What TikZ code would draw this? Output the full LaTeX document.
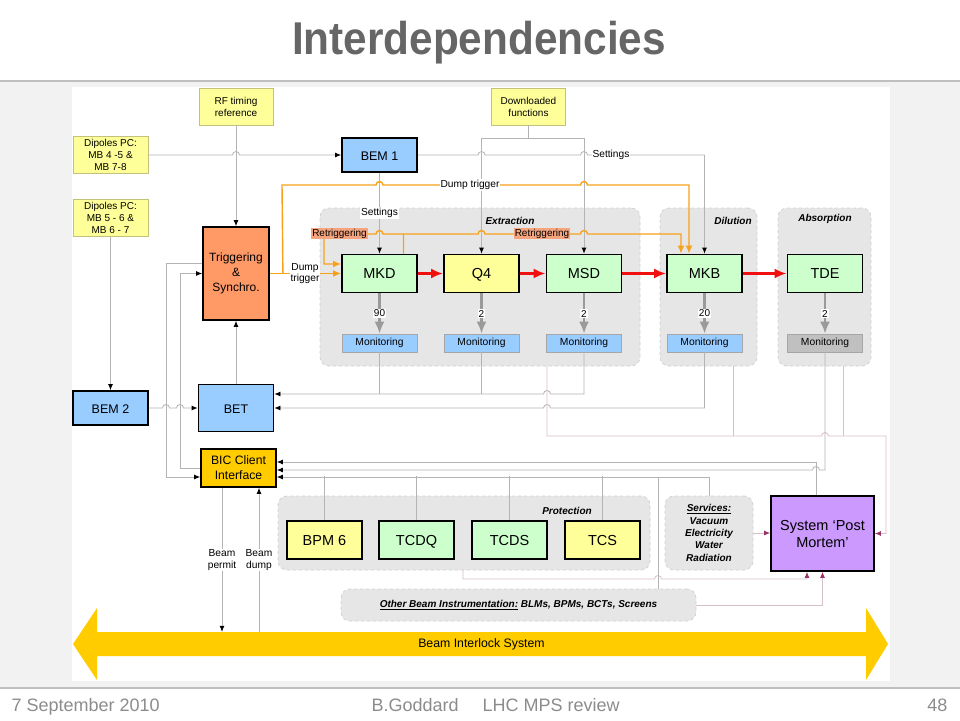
\documentclass[tikz,border=0pt]{standalone}
\usepackage{fontspec}
\setmainfont{Liberation Sans}
\newfontfamily\titlefont[FakeStretch=0.92]{Liberation Sans}
\usetikzlibrary{arrows.meta}

\definecolor{kyellow}{HTML}{FFFF99}
\definecolor{kgreen}{HTML}{CCFFCC}
\definecolor{kblue}{HTML}{99CCFF}
\definecolor{ksalmon}{HTML}{FF9966}
\definecolor{kgold}{HTML}{FFCC00}
\definecolor{kpurple}{HTML}{CC99FF}
\definecolor{kred}{HTML}{F01010}
\definecolor{korange}{HTML}{F7A21B}
\definecolor{kretrig}{HTML}{F6A47E}
\definecolor{mongray}{HTML}{C0C0C0}
\definecolor{noteline}{HTML}{C2C27A}
\definecolor{grpfill}{HTML}{E6E6E6}
\definecolor{grpline}{HTML}{D2D2D2}
\definecolor{wiregray}{HTML}{B4B4B4}
\definecolor{pmwire}{HTML}{D8C0CA}
\definecolor{pmtip}{HTML}{993366}
\definecolor{cntgray}{HTML}{9A9A9A}
\definecolor{titlegray}{HTML}{666666}
\definecolor{footgray}{HTML}{8C8C8C}
\definecolor{panel}{HTML}{F2F2F2}
\definecolor{slideline}{HTML}{BFBFBF}

% hops of a horizontal line over a vertical one
\newcommand{\hopr}[2]{-- (#1-3.5,#2) arc[start angle=180,end angle=0,radius=3.5pt]}
\newcommand{\hopl}[2]{-- (#1+3.5,#2) arc[start angle=0,end angle=180,radius=3.5pt]}

\begin{document}
\begin{tikzpicture}[x=1pt,y=-1pt,
    box/.style={draw=black, line width=1.8pt, minimum width=75pt, minimum height=38pt,
        inner sep=1pt, align=center, font=\fontsize{14.5}{17}\selectfont},
    one/.style={text height=10.5pt, text depth=0pt},
    note/.style={draw=noteline, fill=kyellow, line width=0.7pt, minimum width=74pt,
        minimum height=37pt, inner sep=1pt, align=center, font=\fontsize{10}{12}\selectfont},
    mon/.style={draw=gray!70, line width=0.6pt, minimum width=75pt, minimum height=18pt,
        inner sep=0pt, font=\fontsize{10.3}{11}\selectfont},
    grp/.style={fill=grpfill, draw=grpline, dashed, line width=0.8pt, rounded corners=9pt},
    grplbl/.style={font=\fontsize{10}{11}\selectfont\bfseries\itshape},
    lbl/.style={fill=white, inner sep=1pt, align=center, font=\fontsize{10.2}{11.5}\selectfont},
    num/.style={fill=white, inner sep=1pt, font=\fontsize{10}{10}\selectfont},
    retrig/.style={fill=kretrig, inner sep=1pt, font=\fontsize{10}{11}\selectfont},
    wire/.style={draw=wiregray, line width=0.8pt},
    pmw/.style={draw=pmwire, line width=0.8pt},
    arr/.style={-{Latex[length=6pt,width=5pt,color=black]}},
    parr/.style={-{Latex[length=6pt,width=5pt,color=pmtip]}},
    dump/.style={draw=korange, line width=1.4pt},
    oarr/.style={-{Latex[length=8pt,width=7pt]}},
    beam/.style={draw=kred, line width=2.6pt, -{Latex[length=12pt,width=10pt]}},
    cnt/.style={draw=cntgray, line width=2.6pt, -{Latex[length=12pt,width=10pt]}},
    foot/.style={text=footgray, font=\fontsize{18}{20}\selectfont}]

    \useasboundingbox (0,0) rectangle (960,720);

    % Slide background, title and footer
    \fill[white] (0,0) rectangle (960,720);
    \fill[panel] (0,82) rectangle (960,687);
    \fill[white] (72,87) rectangle (890,681);
    \draw[slideline, line width=2.5pt] (0,81) -- (960,81);
    \draw[slideline, line width=2.5pt] (0,688) -- (960,688);
    \node[text=titlegray, font=\titlefont\bfseries\fontsize{46}{50}\selectfont] (title) at (479,43) {Interdependencies};
    \node[foot, anchor=base west] (date) at (8,711) {7 September 2010};
    \node[foot, anchor=base west] (author) at (368,711) {B.Goddard\hspace{24pt}LHC MPS review};
    \node[foot, anchor=base east] (page) at (951,711) {48};

    % Place the groups
    \node[grp, minimum width=320pt, minimum height=158pt] (extr) at (480,287) {};
    \node[grp, minimum width=97pt, minimum height=158pt] (dil) at (708.5,287) {};
    \node[grp, minimum width=93pt, minimum height=158pt] (abso) at (824.5,287) {};
    \node[grp, minimum width=372pt, minimum height=74pt] (prot) at (464,533) {};
    \node[grp, minimum width=88pt, minimum height=74pt, align=center, inner sep=0pt,
        font=\fontsize{10}{12.3}\selectfont\bfseries\itshape] (svc) at (709,533)
        {\underline{Services:}\\Vacuum\\Electricity\\Water\\Radiation};
    \node[grp, minimum width=355pt, minimum height=32pt, font=\fontsize{10}{11}\selectfont\bfseries\itshape] (oth) at (518.5,605)
        {\underline{Other Beam Instrumentation:} BLMs, BPMs, BCTs, Screens};
    \node[grplbl] (extrlbl) at (510,220.5) {Extraction};
    \node[grplbl] (dillbl) at (733,220.5) {Dilution};
    \node[grplbl] (abslbl) at (825,219) {Absorption};
    \node[grplbl] (protlbl) at (567,511) {Protection};

    % Place the inputs
    \node[note] (rf) at (236,106.5) {RF timing\\reference};
    \node[note] (dl) at (528.5,106.5) {Downloaded\\functions};
    \node[note, minimum width=75pt] (dip1) at (110.5,155) {Dipoles PC:\\MB 4 -5 \&\\MB 7-8};
    \node[note, minimum width=75pt] (dip2) at (110.5,218) {Dipoles PC:\\MB 5 - 6 \&\\MB 6 - 7};

    % Place the systems
    \node[box, one, fill=kblue, minimum height=34pt, font=\fontsize{12.5}{15}\selectfont] (bem1) at (379.5,155) {BEM 1};
    \node[box, fill=ksalmon, minimum width=66pt, minimum height=93pt,
        font=\fontsize{12}{15}\selectfont] (trig) at (236,273.5) {Triggering\\\&\\Synchro.};
    \node[box, one, fill=kgreen] (mkd) at (379.5,273.5) {MKD};
    \node[box, one, fill=kyellow] (q4) at (481.5,273.5) {Q4};
    \node[box, one, fill=kgreen] (msd) at (584,273.5) {MSD};
    \node[box, one, fill=kgreen] (mkb) at (704.5,273.5) {MKB};
    \node[box, one, fill=kgreen] (tde) at (825,273.5) {TDE};
    \node[mon, fill=kblue] (mkdm) at (379.5,343) {Monitoring};
    \node[mon, fill=kblue] (q4m) at (481.5,343) {Monitoring};
    \node[mon, fill=kblue] (msdm) at (584,343) {Monitoring};
    \node[mon, fill=kblue] (mkbm) at (704.5,343) {Monitoring};
    \node[mon, fill=mongray] (tdem) at (825,343) {Monitoring};
    \node[box, one, fill=kblue, minimum height=34pt, font=\fontsize{12.5}{15}\selectfont] (bem2) at (110.5,408) {BEM 2};
    \node[box, one, fill=kblue, minimum height=47pt, font=\fontsize{12.5}{15}\selectfont] (bet) at (236,408) {BET};
    \node[box, fill=kgold, font=\fontsize{12.2}{15}\selectfont] (bic) at (238.5,468) {BIC Client\\Interface};
    \node[box, one, fill=kyellow] (bpm) at (324.5,540) {BPM 6};
    \node[box, one, fill=kgreen] (tcdq) at (416.5,540) {TCDQ};
    \node[box, one, fill=kgreen] (tcds) at (509.5,540) {TCDS};
    \node[box, one, fill=kyellow] (tcs) at (602.5,540) {TCS};
    \node[box, fill=kpurple, minimum width=103pt, minimum height=75pt,
        font=\fontsize{14.5}{17}\selectfont] (pm) at (822.5,533.5) {System ‘Post\\Mortem’};

    % Beam Interlock System
    \fill[kgold] (73,644) -- (97,608) -- (97,632) -- (866,632) -- (866,608) -- (888,644)
        -- (866,680) -- (866,656) -- (97,656) -- (97,680) -- cycle;
    \node[minimum width=769pt, minimum height=24pt, inner sep=0pt,
        font=\fontsize{12.3}{14}\selectfont] (bis) at (481.5,644) {Beam Interlock System};

    % Inputs
    \draw[wire,arr] (rf) -- (trig);
    \draw[wire,arr] (dip1.east) \hopr{236}{155} -- (bem1.west);
    \draw[wire,arr] (dip2) -- (bem2);
    \draw[wire] (dl.south) -- ++(0,13) coordinate (dlj);
    \draw[wire,arr] (dlj) -| (q4.north);
    \draw[wire,arr] (dlj) -| (msd.north);
    \draw[wire,arr] (bem1.east) \hopr{481.5}{155} \hopr{584}{155} -| (mkb.north);
    \node[lbl] (set2) at (611,155) {Settings};
    \draw[wire,arr] (bem1) -- (mkd) node[lbl,pos=0.5] (set1) {Settings};

    % Dump trigger and retriggering
    \draw[dump] (trig.east) -- ++(13,0) coordinate (dtj);
    \draw[dump,oarr] (dtj) -- (282,185) \hopr{379.5}{185} \hopr{584}{185} -| ([xshift=-15.5pt]mkb.north);
    \draw[dump,oarr] (dtj) -- (mkd.west);
    \node[lbl] (dt1) at (470,185) {Dump trigger};
    \node[lbl] (dt2) at (305,273.5) {Dump\\trigger};
    \draw[dump,oarr] ([xshift=24pt]mkd.north) -- (403.5,234) \hopl{379.5}{234} -- (324,234) |- ([yshift=9.5pt]mkd.west);
    \draw[dump,oarr] (403.5,234) \hopr{481.5}{234} \hopr{584}{234} -| ([xshift=-23.5pt]mkb.north);
    \node[retrig] (rt1) at (339.5,233.5) {Retriggering};
    \node[retrig] (rt2) at (542,233.5) {Retriggering};

    % Beam line and monitoring
    \draw[beam] (mkd) -- (q4);
    \draw[beam] (q4) -- (msd);
    \draw[beam] (msd) -- (mkb);
    \draw[beam] (mkb) -- (tde);
    \draw[cnt] (mkd) -- (mkdm) node[num,pos=0.5] (n1) {90};
    \draw[cnt] (q4) -- (q4m) node[num,pos=0.5] (n2) {2};
    \draw[cnt] (msd) -- (msdm) node[num,pos=0.5] (n3) {2};
    \draw[cnt] (mkb) -- (mkbm) node[num,pos=0.5] (n4) {20};
    \draw[cnt] (tde) -- (tdem) node[num,pos=0.5] (n5) {2};

    % Monitoring to BET
    \draw[wire] (mkdm.south) -- (379.5,394);
    \draw[wire] (q4m.south) -- (481.5,394);
    \draw[wire,arr] (msdm.south) -- (584,394) \hopl{547}{394} -- ([yshift=14pt]bet.east);
    \draw[wire,arr] (mkbm.south) -- (704.5,408) \hopl{547}{408} -- (bet.east);

    % Post mortem
    \draw[pmw,parr] (547,366) -- (547,436) \hopr{825}{436} -- (886,436) |- (pm.east);
    \draw[pmw] (733,366) -- (733,436);
    \draw[pmw] (843,366) -- (843,436);
    \draw[pmw,parr] (463,570) -- (463,579) \hopr{658}{579} -| ([xshift=-15.5pt]pm.south);
    \draw[pmw,parr] (oth.east) -| (pm.south);
    \draw[pmw,parr] (svc.east) -- (svc.east -| pm.west);

    % Into the BIC client interface
    \draw[wire,arr] (tdem.south) -- (825,470) \hopl{816}{470} -- ([yshift=-2pt]bic.east);
    \draw[wire,arr] ([xshift=-6.5pt]pm.north) |- ([yshift=6pt]bic.east);
    \draw[wire,arr] (svc.north) |- ([yshift=-9pt]bic.east);
    \foreach \b in {bpm,tcdq,tcds,tcs}
        \draw[wire] (\b.north) -- ++(0,-44);
    \draw[wire] (oth.north -| 658,0) -- (658,477);

    % Left side
    \draw[wire,arr] (bem2.east) \hopr{166}{408} \hopr{180}{408} -- (bet.west);
    \draw[wire,arr] (bet) -- (trig);
    \draw[wire,arr] ([yshift=10.5pt]trig.west) -- (166,263) |- ([yshift=-9pt]bic.west);
    \draw[wire,arr] (bic.west) -- (180,468) |- (trig.west);

    % Beam permit and beam dump
    \coordinate (bp) at ([xshift=-16.5pt]bic.south);
    \coordinate (bd) at ([xshift=20.5pt]bic.south);
    \draw[wire,arr] (bp) -- (bp |- bis.north) node[lbl,pos=0.5] (perm) {Beam\\permit};
    \draw[wire,arr] (bd |- bis.north) -- (bd) node[lbl,pos=0.5] (bdump) {Beam\\dump};

\end{tikzpicture}
\end{document}
